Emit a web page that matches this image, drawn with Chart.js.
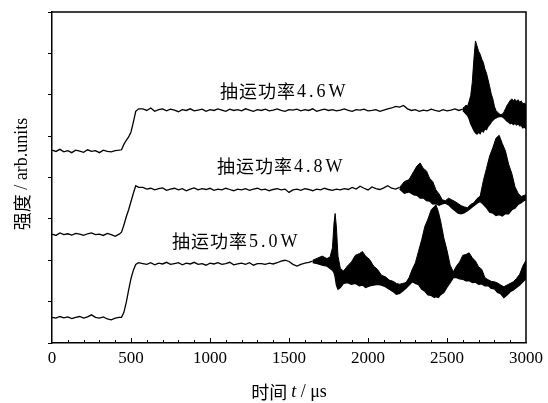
<!DOCTYPE html>
<html>
<head>
<meta charset="utf-8">
<script src="https://cdn.jsdelivr.net/npm/chart.js@4.4.0/dist/chart.umd.min.js"></script>
<style>
html, body { margin: 0; padding: 0; background: #fff; }
canvas { display: block; }
</style>
</head>
<body>
<canvas id="pulseChart" width="548" height="403"></canvas>
<script>
// time grids (us)
var tBase = [0,25,50,75,100,125,150,175,200,225,250,275,300,325,350,375,400,425];
var tRise = [440,455,470,485,500,515,530,548];
var tFlat = [575,600,625,650,675,700,725,750,775,800,825,850,875,900,925,950,975,1000,1025,1050,
    1075,1100,1125,1150,1175,1200,1225,1250,1275,1300,1325,1350,1375,1400,1425,1450,1475,1500,1525,1550,
    1575,1600,1625,1650,1675,1700,1725,1750,1775,1800,1825,1850,1875,1900,1925,1950,1975,2000,2025,2050,
    2075,2100,2125,2150,2175,2200,2225,2250,2275,2300,2325,2350,2375,2400,2425,2450,2475,2500,2525,2550,
    2575,2600];

// 4.6 W
var base46 = [4.66,4.63,4.68,4.62,4.65,4.60,4.66,4.64,4.61,4.67,4.63,4.65,4.60,4.66,4.63,4.62,4.65,4.66];
var rise46 = [4.67,4.80,4.90,4.98,5.10,5.34,5.60,5.66];
var flat46 = [5.66,5.62,5.68,5.60,5.64,5.66,5.61,5.65,5.63,5.59,
    5.64,5.62,5.66,5.61,5.63,5.65,5.60,5.64,5.62,5.66,
    5.63,5.60,5.65,5.62,5.64,5.61,5.66,5.63,5.60,5.64,
    5.62,5.65,5.61,5.63,5.66,5.62,5.60,5.64,5.63,5.65,
    5.61,5.64,5.62,5.66,5.60,5.63,5.65,5.62,5.64,5.61,
    5.63,5.66,5.62,5.60,5.64,5.63,5.65,5.61,5.62,5.64,
    5.60,5.63,5.66,5.68,5.72,5.70,5.74,5.66,5.62,5.64,
    5.60,5.63,5.61,5.65,5.62,5.60,5.64,5.61,5.63,5.66,
    5.62,5.65];
var tEnv46 = [2600,2610,2620,2630,2640,2650,2660,2670,2680,2690,2700,2710,2720,2730,2740,2750,2760,2770,2780,2790,
    2800,2810,2820,2830,2840,2850,2860,2870,2880,2890,2900,2910,2920,2930,2940,2950,2960,2970,2980,2990,3000];
var hi46 = [5.68,5.70,5.75,5.72,5.84,5.98,6.30,6.85,7.30,7.18,7.05,6.98,6.86,6.78,6.62,6.52,6.36,6.20,6.02,5.90,
    5.72,5.62,5.58,5.54,5.52,5.53,5.58,5.66,5.74,5.80,5.86,5.90,5.86,5.89,5.84,5.88,5.82,5.85,5.78,5.80,5.74];
var lo46 = [5.62,5.58,5.54,5.50,5.42,5.30,5.22,5.14,5.08,5.05,5.10,5.06,5.14,5.10,5.18,5.16,5.24,5.28,5.34,5.38,
    5.42,5.44,5.46,5.47,5.48,5.47,5.44,5.40,5.36,5.34,5.30,5.32,5.28,5.31,5.27,5.30,5.25,5.26,5.20,5.22,5.18];

// 4.8 W
var base48 = [2.63,2.60,2.66,2.62,2.64,2.61,2.65,2.63,2.60,2.64,2.66,2.62,2.63,2.60,2.65,2.62,2.58,2.63];
var rise48 = [2.68,2.85,3.05,3.22,3.42,3.62,3.80,3.76];
var flat48 = [3.76,3.72,3.74,3.70,3.73,3.75,3.69,3.72,3.74,3.70,
    3.73,3.68,3.72,3.75,3.70,3.73,3.71,3.74,3.69,3.72,
    3.70,3.74,3.71,3.68,3.72,3.70,3.73,3.69,3.72,3.74,
    3.70,3.72,3.68,3.71,3.73,3.70,3.72,3.64,3.70,3.72,
    3.69,3.73,3.71,3.68,3.72,3.70,3.74,3.71,3.69,3.72,
    3.70,3.73,3.71,3.76,3.72,3.79,3.74,3.70,3.77,3.73,
    3.71,3.75,3.80,3.74,3.72,3.76];
var tEnv48 = [2200,2230,2260,2290,2310,2330,2350,2370,2390,2410,2430,2450,2470,2490,2510,2530,2550,2570,2590,2610,
    2630,2650,2670,2690,2710,2730,2750,2770,2790,2810,2830,2850,2870,2890,2910,2930,2950,2970,2990,3000];
var hi48 = [3.76,3.90,3.95,4.15,4.28,4.35,4.22,4.16,3.98,3.90,3.70,3.60,3.46,3.44,3.50,3.46,3.42,3.37,3.32,3.29,
    3.27,3.35,3.39,3.49,3.55,3.92,4.22,4.52,4.72,4.95,5.02,4.82,4.64,4.32,4.10,3.78,3.62,3.54,3.57,3.58];
var lo48 = [3.72,3.62,3.65,3.58,3.57,3.50,3.51,3.44,3.43,3.36,3.37,3.33,3.36,3.38,3.34,3.26,3.20,3.14,3.12,3.15,
    3.20,3.26,3.32,3.38,3.42,3.35,3.27,3.16,3.14,3.08,3.10,3.07,3.13,3.12,3.22,3.26,3.35,3.39,3.45,3.46];

// 5.0 W
var base50 = [0.62,0.60,0.64,0.61,0.63,0.59,0.62,0.64,0.60,0.63,0.68,0.62,0.60,0.63,0.58,0.56,0.60,0.62];
var rise50 = [0.62,0.74,0.98,1.28,1.56,1.76,1.90,1.94];
var flat50 = [1.92,1.90,1.94,1.89,1.93,1.91,1.95,1.90,1.92,1.94,
    1.89,1.93,1.91,1.95,1.90,1.92,1.88,1.93,1.91,1.94,
    1.90,1.92,1.95,1.89,1.91,1.93,1.90,1.94,1.88,1.92,
    1.92,1.90,1.93,1.91,1.94,1.98,2.00,1.97,1.90,1.86,
    1.90,1.93,1.95,1.98];
var tEnv50 = [1650,1680,1710,1740,1760,1775,1785,1792,1800,1810,1825,1845,1870,1895,1920,1945,1965,1985,2010,2035,
    2060,2085,2110,2135,2160,2180,2200,2220,2240,2260,2280,2300,2320,2340,2360,2380,2400,2420,2430,2445,
    2460,2480,2500,2520,2540,2560,2580,2600,2620,2640,2660,2680,2700,2720,2740,2760,2780,2800,2820,2840,
    2860,2880,2900,2920,2940,2960,2980,3000];
var hi50 = [2.00,2.05,2.10,2.04,2.08,2.30,2.90,3.13,2.80,2.10,1.80,1.74,1.86,1.96,2.12,2.16,2.21,2.10,2.02,1.86,
    1.78,1.64,1.60,1.52,1.49,1.44,1.42,1.44,1.46,1.58,1.78,1.94,2.22,2.50,2.82,3.00,3.22,3.30,3.34,3.18,
    2.94,2.54,2.24,1.88,1.72,1.86,1.96,2.12,2.14,2.18,2.06,1.98,1.84,1.78,1.58,1.53,1.49,1.48,1.45,1.40,
    1.36,1.40,1.44,1.48,1.56,1.66,1.86,2.00];
var lo50 = [1.94,1.92,1.88,1.86,1.80,1.76,1.70,1.60,1.40,1.30,1.34,1.44,1.46,1.42,1.44,1.38,1.40,1.34,1.38,1.40,
    1.42,1.40,1.36,1.30,1.24,1.18,1.20,1.26,1.32,1.40,1.48,1.44,1.41,1.30,1.25,1.16,1.15,1.10,1.12,1.10,
    1.17,1.22,1.35,1.46,1.58,1.58,1.55,1.54,1.50,1.51,1.46,1.47,1.42,1.43,1.38,1.39,1.32,1.31,1.22,1.19,
    1.10,1.16,1.24,1.28,1.34,1.40,1.48,1.56];

var xTickLabels = ['0','500','1000','1500','2000','2500','3000'];
var seriesNames = ['抽运功率4.6W', '抽运功率4.8W', '抽运功率5.0W'];

// where each trace label sits, in data units (left edge, vertical centre)
var labelAnchors = [{x: 1063, y: 6.08}, {x: 1044, y: 4.28}, {x: 759, y: 2.47}];

function trace(base, rise, flat) {
    var pts = [];
    for (var i = 0; i < base.length; i++) pts.push({x: tBase[i], y: base[i]});
    for (var j = 0; j < rise.length; j++) pts.push({x: tRise[j], y: rise[j]});
    for (var k = 0; k < flat.length; k++) pts.push({x: tFlat[k], y: flat[k]});
    return pts;
}
function env(t, v) {
    return t.map(function(x, i) { return {x: x, y: v[i]}; });
}
function lineSet(data) {
    return {data: data, borderColor: '#000', borderWidth: 1.3, pointRadius: 0, fill: false};
}
function hiSet(data) {
    return {data: data, borderColor: '#000', borderWidth: 1, pointRadius: 0, fill: '+1', backgroundColor: '#000'};
}

var serif = "'Liberation Serif', 'DejaVu Serif', serif";
var cjk = "'Noto Sans CJK SC', sans-serif";

function drawParts(ctx, parts, cx, cy) {
    var total = 0;
    parts.forEach(function(p) { ctx.font = p.font; total += ctx.measureText(p.text).width; });
    var x = cx - total / 2;
    parts.forEach(function(p) {
        ctx.font = p.font;
        ctx.fillText(p.text, x, cy);
        x += ctx.measureText(p.text).width;
    });
}

var decor = {
    id: 'decor',
    afterDatasetsDraw: function(chart) {
        var ctx = chart.ctx, a = chart.chartArea;
        var xs = chart.scales.x, ys = chart.scales.y;
        ctx.save();
        // top and right frame
        ctx.strokeStyle = '#000';
        ctx.lineWidth = 1.5;
        ctx.beginPath();
        ctx.moveTo(a.left, a.top);
        ctx.lineTo(a.right, a.top);
        ctx.lineTo(a.right, a.bottom);
        ctx.stroke();
        // inward x ticks
        ctx.lineWidth = 1;
        ctx.beginPath();
        for (var v = 100; v < 3000; v += 100) {
            var px = Math.round(xs.getPixelForValue(v)) + 0.5;
            var len = (v % 500 === 0) ? 5 : 3;
            ctx.moveTo(px, a.bottom);
            ctx.lineTo(px, a.bottom - len);
        }
        ctx.stroke();
        // trace labels
        ctx.fillStyle = '#000';
        ctx.textBaseline = 'middle';
        ctx.textAlign = 'left';
        seriesNames.forEach(function(name, i) {
            var x = xs.getPixelForValue(labelAnchors[i].x);
            var y = ys.getPixelForValue(labelAnchors[i].y);
            var zh = name.slice(0, 4), num = name.slice(4);
            ctx.font = '18px ' + cjk;
            ctx.letterSpacing = '1px';
            ctx.fillText(zh, x, y);
            x += ctx.measureText(zh).width;
            ctx.font = '18px ' + serif;
            ctx.letterSpacing = '3px';
            ctx.fillText(num, x + 1, y + 1);
        });
        ctx.letterSpacing = '0px';
        // axis titles
        ctx.textAlign = 'left';
        drawParts(ctx, [
            {text: '时间 ', font: '18px ' + cjk},
            {text: 't', font: 'italic 18px ' + serif},
            {text: ' / μs', font: '18px ' + serif}
        ], (a.left + a.right) / 2, 392);
        ctx.translate(22, 174);
        ctx.rotate(-Math.PI / 2);
        drawParts(ctx, [
            {text: '强度', font: '18px ' + cjk},
            {text: ' / arb.units', font: '18px ' + serif}
        ], 0, 0);
        ctx.restore();
    }
};

var ctx = document.getElementById('pulseChart').getContext('2d');
var chart = new Chart(ctx, {
    type: 'line',
    data: {
        datasets: [
            lineSet(trace(base46, rise46, flat46)),
            hiSet(env(tEnv46, hi46)),
            lineSet(env(tEnv46, lo46)),
            lineSet(trace(base48, rise48, flat48)),
            hiSet(env(tEnv48, hi48)),
            lineSet(env(tEnv48, lo48)),
            lineSet(trace(base50, rise50, flat50)),
            hiSet(env(tEnv50, hi50)),
            lineSet(env(tEnv50, lo50))
        ]
    },
    options: {
        responsive: false,
        animation: false,
        devicePixelRatio: 1,
        layout: { padding: { top: 12, right: 22, left: 0, bottom: 0 } },
        plugins: { legend: { display: false }, tooltip: { enabled: false } },
        elements: { line: { tension: 0 } },
        scales: {
            x: {
                type: 'linear',
                min: 0,
                max: 3000,
                grid: { display: false, drawTicks: false },
                border: { display: true, color: '#000', width: 1.5 },
                ticks: {
                    stepSize: 500,
                    padding: 5,
                    color: '#000',
                    font: { family: serif, size: 17 },
                    callback: function(v) { return xTickLabels[v / 500]; }
                },
                afterFit: function(s) { s.height = 60; s.paddingLeft = 0; s.paddingRight = 0; }
            },
            y: {
                min: 0,
                max: 8,
                grid: { drawOnChartArea: false, drawTicks: true, tickLength: 4, color: '#000' },
                border: { display: true, color: '#000', width: 1.5 },
                ticks: { stepSize: 1, display: false },
                afterFit: function(s) { s.width = 52; }
            }
        }
    },
    plugins: [decor]
});
</script>
</body>
</html>
